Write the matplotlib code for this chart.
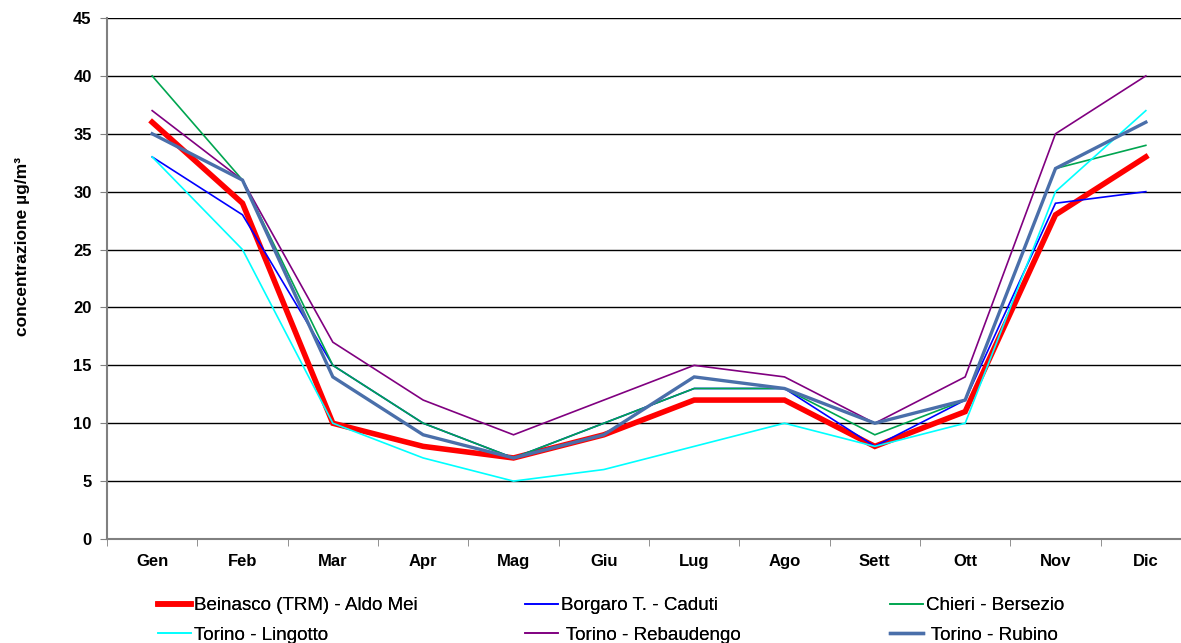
import numpy as np
import matplotlib
matplotlib.use("Agg")
import matplotlib.pyplot as plt

plt.rcParams['font.family'] = ['Liberation Sans', 'DejaVu Sans']

# dati mensili (concentrazione ug/m3)
mesi = ["Gen", "Feb", "Mar", "Apr", "Mag", "Giu", "Lug", "Ago", "Sett", "Ott", "Nov", "Dic"]
beinasco = [36, 29, 10, 8, 7, 9, 12, 12, 8, 11, 28, 33]
borgaro = [33, 28, 15, 10, 7, 10, 13, 13, 8, 12, 29, 30]
chieri = [40, 31, 15, 10, 7, 10, 13, 13, 9, 12, 32, 34]
lingotto = [33, 25, 10, 7, 5, 6, 8, 10, 8, 10, 30, 37]
rebaudengo = [37, 31, 17, 12, 9, 12, 15, 14, 10, 14, 35, 40]
rubino = [35, 31, 14, 9, 7, 9, 14, 13, 10, 12, 32, 36]

serie = [
    ("Beinasco (TRM) - Aldo Mei", beinasco, "#FF0000", 4.0),
    ("Borgaro T. - Caduti", borgaro, "#0000FF", 1.2),
    ("Chieri - Bersezio", chieri, "#00A550", 1.2),
    ("Torino - Lingotto", lingotto, "#00FFFF", 1.2),
    (" Torino - Rebaudengo", rebaudengo, "#800080", 1.2),
    (" Torino - Rubino", rubino, "#4A6FAA", 2.4),
]

fig = plt.figure(figsize=(11.81, 6.43), dpi=100)
ax = fig.add_axes([107 / 1181, 1 - 539 / 643, 1084 / 1181, 521 / 643])

x = np.arange(len(mesi))
linee = []
for nome, valori, colore, lw in serie:
    l, = ax.plot(x, valori, color=colore, lw=lw, label=nome, solid_joinstyle='miter')
    linee.append(l)

ax.set_xlim(-0.5, 11.5)
ax.set_ylim(0, 45)
ax.set_yticks(np.arange(0, 46, 5))
ax.yaxis.grid(True, color='black', lw=1.0)
ax.set_axisbelow(True)

ax.set_xticks(x)
ax.set_xticklabels(mesi, fontweight='bold', fontsize=12)
ax.set_xticks(np.arange(-0.5, 11.6, 1), minor=True)
ax.tick_params(axis='x', which='major', length=0, pad=11)
ax.tick_params(axis='x', which='minor', length=5, color='#808080', direction='out')
ax.tick_params(axis='y', length=5, color='#808080', labelsize=12, pad=6)
for t in ax.get_yticklabels():
    t.set_fontweight('bold')

for s in ['top', 'right']:
    ax.spines[s].set_visible(False)
for s in ['left', 'bottom']:
    ax.spines[s].set_color('#808080')
    ax.spines[s].set_linewidth(1.5)

ax.set_ylabel("concentrazione µg/m³", fontweight='bold', fontsize=12.5)
ax.yaxis.set_label_coords(-0.071, 0.562)

# legenda: tre colonne, ognuna con due voci
colonne_x = [158, 525, 890]
for c, xpix in enumerate(colonne_x):
    idx = [c, c + 3]
    leg = fig.legend([linee[i] for i in idx], [serie[i][0] for i in idx],
                     loc='upper left', bbox_to_anchor=(xpix / 1181, 1 - 597 / 643),
                     frameon=False, fontsize=13.5, handlelength=1.75, handletextpad=0.15,
                     labelspacing=0.68, borderaxespad=0, borderpad=0)
    fig.add_artist(leg)

fig.savefig("out.png", dpi=100)
